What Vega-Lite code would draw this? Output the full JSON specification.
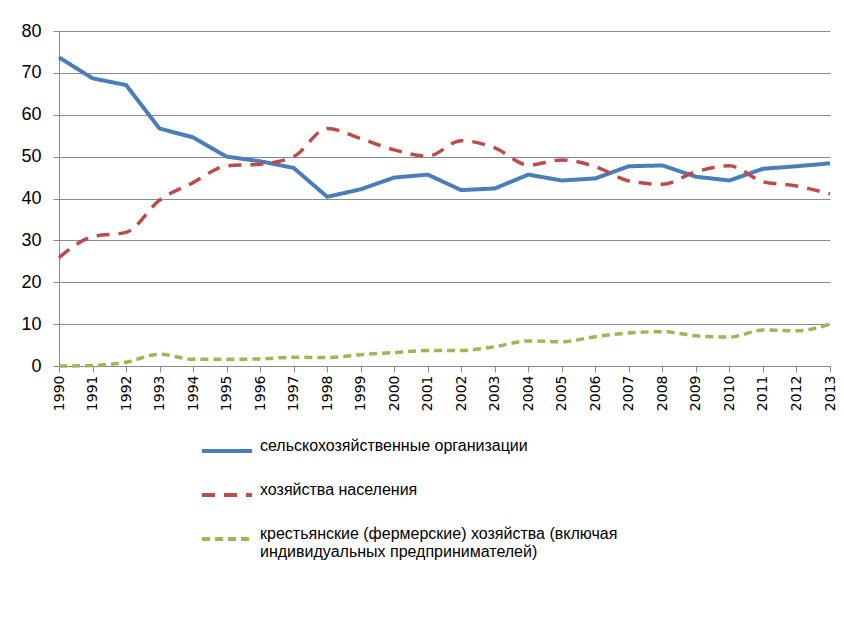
{
  "$schema": "https://vega.github.io/schema/vega-lite/v6.json",
  "width": 771,
  "height": 335,
  "autosize": {"type": "none"},
  "padding": {"left": 59, "top": 31, "right": 14, "bottom": 263},
  "background": "white",
  "config": {
    "view": {"stroke": null},
    "font": "Liberation Sans",
    "axis": {"gridColor": "#8a8a8a", "gridWidth": 1, "domainColor": "#8a8a8a", "tickColor": "#8a8a8a", "labelColor": "#000000", "titleColor": "#000000"}
  },
  "datasets": {
    "d": [
      {"year": 1990, "s": "сельскохозяйственные организации", "v": 73.7},
      {"year": 1991, "s": "сельскохозяйственные организации", "v": 68.7},
      {"year": 1992, "s": "сельскохозяйственные организации", "v": 67.1},
      {"year": 1993, "s": "сельскохозяйственные организации", "v": 56.7},
      {"year": 1994, "s": "сельскохозяйственные организации", "v": 54.6},
      {"year": 1995, "s": "сельскохозяйственные организации", "v": 50.0},
      {"year": 1996, "s": "сельскохозяйственные организации", "v": 48.9},
      {"year": 1997, "s": "сельскохозяйственные организации", "v": 47.3},
      {"year": 1998, "s": "сельскохозяйственные организации", "v": 40.4},
      {"year": 1999, "s": "сельскохозяйственные организации", "v": 42.2},
      {"year": 2000, "s": "сельскохозяйственные организации", "v": 45.0},
      {"year": 2001, "s": "сельскохозяйственные организации", "v": 45.7},
      {"year": 2002, "s": "сельскохозяйственные организации", "v": 42.0},
      {"year": 2003, "s": "сельскохозяйственные организации", "v": 42.4},
      {"year": 2004, "s": "сельскохозяйственные организации", "v": 45.7},
      {"year": 2005, "s": "сельскохозяйственные организации", "v": 44.3},
      {"year": 2006, "s": "сельскохозяйственные организации", "v": 44.8},
      {"year": 2007, "s": "сельскохозяйственные организации", "v": 47.7},
      {"year": 2008, "s": "сельскохозяйственные организации", "v": 47.9},
      {"year": 2009, "s": "сельскохозяйственные организации", "v": 45.2},
      {"year": 2010, "s": "сельскохозяйственные организации", "v": 44.3},
      {"year": 2011, "s": "сельскохозяйственные организации", "v": 47.1},
      {"year": 2012, "s": "сельскохозяйственные организации", "v": 47.7},
      {"year": 2013, "s": "сельскохозяйственные организации", "v": 48.4},
      {"year": 1990, "s": "хозяйства населения", "v": 25.9},
      {"year": 1991, "s": "хозяйства населения", "v": 30.9},
      {"year": 1992, "s": "хозяйства населения", "v": 31.9},
      {"year": 1993, "s": "хозяйства населения", "v": 39.6},
      {"year": 1994, "s": "хозяйства населения", "v": 43.8},
      {"year": 1995, "s": "хозяйства населения", "v": 47.8},
      {"year": 1996, "s": "хозяйства населения", "v": 48.2},
      {"year": 1997, "s": "хозяйства населения", "v": 50.0},
      {"year": 1998, "s": "хозяйства населения", "v": 56.7},
      {"year": 1999, "s": "хозяйства населения", "v": 54.3},
      {"year": 2000, "s": "хозяйства населения", "v": 51.6},
      {"year": 2001, "s": "хозяйства населения", "v": 50.1},
      {"year": 2002, "s": "хозяйства населения", "v": 53.8},
      {"year": 2003, "s": "хозяйства населения", "v": 52.1},
      {"year": 2004, "s": "хозяйства населения", "v": 48.0},
      {"year": 2005, "s": "хозяйства населения", "v": 49.2},
      {"year": 2006, "s": "хозяйства населения", "v": 47.6},
      {"year": 2007, "s": "хозяйства населения", "v": 44.2},
      {"year": 2008, "s": "хозяйства населения", "v": 43.4},
      {"year": 2009, "s": "хозяйства населения", "v": 46.4},
      {"year": 2010, "s": "хозяйства населения", "v": 47.8},
      {"year": 2011, "s": "хозяйства населения", "v": 44.0},
      {"year": 2012, "s": "хозяйства населения", "v": 43.0},
      {"year": 2013, "s": "хозяйства населения", "v": 41.1},
      {"year": 1990, "s": "крестьянские (фермерские)  хозяйства (включая индивидуальных предпринимателей)", "v": 0.0},
      {"year": 1991, "s": "крестьянские (фермерские)  хозяйства (включая индивидуальных предпринимателей)", "v": 0.1},
      {"year": 1992, "s": "крестьянские (фермерские)  хозяйства (включая индивидуальных предпринимателей)", "v": 0.9},
      {"year": 1993, "s": "крестьянские (фермерские)  хозяйства (включая индивидуальных предпринимателей)", "v": 2.8},
      {"year": 1994, "s": "крестьянские (фермерские)  хозяйства (включая индивидуальных предпринимателей)", "v": 1.6},
      {"year": 1995, "s": "крестьянские (фермерские)  хозяйства (включая индивидуальных предпринимателей)", "v": 1.6},
      {"year": 1996, "s": "крестьянские (фермерские)  хозяйства (включая индивидуальных предпринимателей)", "v": 1.7},
      {"year": 1997, "s": "крестьянские (фермерские)  хозяйства (включая индивидуальных предпринимателей)", "v": 2.1},
      {"year": 1998, "s": "крестьянские (фермерские)  хозяйства (включая индивидуальных предпринимателей)", "v": 2.0},
      {"year": 1999, "s": "крестьянские (фермерские)  хозяйства (включая индивидуальных предпринимателей)", "v": 2.7},
      {"year": 2000, "s": "крестьянские (фермерские)  хозяйства (включая индивидуальных предпринимателей)", "v": 3.2},
      {"year": 2001, "s": "крестьянские (фермерские)  хозяйства (включая индивидуальных предпринимателей)", "v": 3.7},
      {"year": 2002, "s": "крестьянские (фермерские)  хозяйства (включая индивидуальных предпринимателей)", "v": 3.7},
      {"year": 2003, "s": "крестьянские (фермерские)  хозяйства (включая индивидуальных предпринимателей)", "v": 4.6},
      {"year": 2004, "s": "крестьянские (фермерские)  хозяйства (включая индивидуальных предпринимателей)", "v": 6.0},
      {"year": 2005, "s": "крестьянские (фермерские)  хозяйства (включая индивидуальных предпринимателей)", "v": 5.8},
      {"year": 2006, "s": "крестьянские (фермерские)  хозяйства (включая индивидуальных предпринимателей)", "v": 7.0},
      {"year": 2007, "s": "крестьянские (фермерские)  хозяйства (включая индивидуальных предпринимателей)", "v": 7.9},
      {"year": 2008, "s": "крестьянские (фермерские)  хозяйства (включая индивидуальных предпринимателей)", "v": 8.2},
      {"year": 2009, "s": "крестьянские (фермерские)  хозяйства (включая индивидуальных предпринимателей)", "v": 7.2},
      {"year": 2010, "s": "крестьянские (фермерские)  хозяйства (включая индивидуальных предпринимателей)", "v": 6.9},
      {"year": 2011, "s": "крестьянские (фермерские)  хозяйства (включая индивидуальных предпринимателей)", "v": 8.6},
      {"year": 2012, "s": "крестьянские (фермерские)  хозяйства (включая индивидуальных предпринимателей)", "v": 8.4},
      {"year": 2013, "s": "крестьянские (фермерские)  хозяйства (включая индивидуальных предпринимателей)", "v": 10.0}
    ]
  },
  "data": {"name": "d"},
  "encoding": {
    "x": {
      "field": "year", "type": "quantitative",
      "scale": {"domain": [1990, 2013], "nice": false, "zero": false},
      "axis": {
        "title": null, "values": [1990,1991,1992,1993,1994,1995,1996,1997,1998,1999,2000,2001,2002,2003,2004,2005,2006,2007,2008,2009,2010,2011,2012,2013],
        "format": "d", "labelAngle": 270, "labelAlign": "right", "labelBaseline": "middle",
        "labelFontSize": 14, "labelFont": "DejaVu Sans", "labelPadding": 3, "tickSize": 6, "grid": false,
        "labelOverlap": false, "labelFlush": false
      }
    },
    "y": {
      "field": "v", "type": "quantitative",
      "scale": {"domain": [0, 80], "nice": false},
      "axis": {"title": null, "values": [0,10,20,30,40,50,60,70,80], "labelFontSize": 18, "labelPadding": 12, "tickSize": 6, "grid": true, "labelFont": "Liberation Sans"}
    },
    "color": {
      "field": "s", "type": "nominal",
      "scale": {
        "domain": ["сельскохозяйственные организации", "хозяйства населения", "крестьянские (фермерские)  хозяйства (включая индивидуальных предпринимателей)"],
        "range": ["#4a7ebb", "#be4b48", "#98b954"]
      },
      "legend": {
        "title": null, "orient": "none", "legendX": 141, "legendY": 393, "padding": 0,
        "symbolType": "stroke", "symbolSize": 2500, "symbolStrokeWidth": 4, "rowPadding": 9,
        "labelFont": "Liberation Sans", "labelFontSize": 16, "labelBaseline": "alphabetic", "labelColor": "#000000", "labelOffset": 6, "labelLimit": 600,
        "labelExpr": "datum.label == 'крестьянские (фермерские)  хозяйства (включая индивидуальных предпринимателей)' ? ['крестьянские (фермерские)  хозяйства (включая', 'индивидуальных предпринимателей)'] : datum.label"
      }
    },
    "strokeDash": {
      "field": "s", "type": "nominal",
      "scale": {
        "domain": ["сельскохозяйственные организации", "хозяйства населения", "крестьянские (фермерские)  хозяйства (включая индивидуальных предпринимателей)"],
        "range": [[1, 0], [13, 9], [8, 5]]
      },
      "legend": null
    }
  },
  "layer": [
    {"transform": [{"filter": "datum.s == 'сельскохозяйственные организации'"}], "mark": {"type": "line", "strokeWidth": 4}},
    {"transform": [{"filter": "datum.s != 'сельскохозяйственные организации'"}], "mark": {"type": "line", "strokeWidth": 3.5, "interpolate": "monotone"}}
  ]
}
